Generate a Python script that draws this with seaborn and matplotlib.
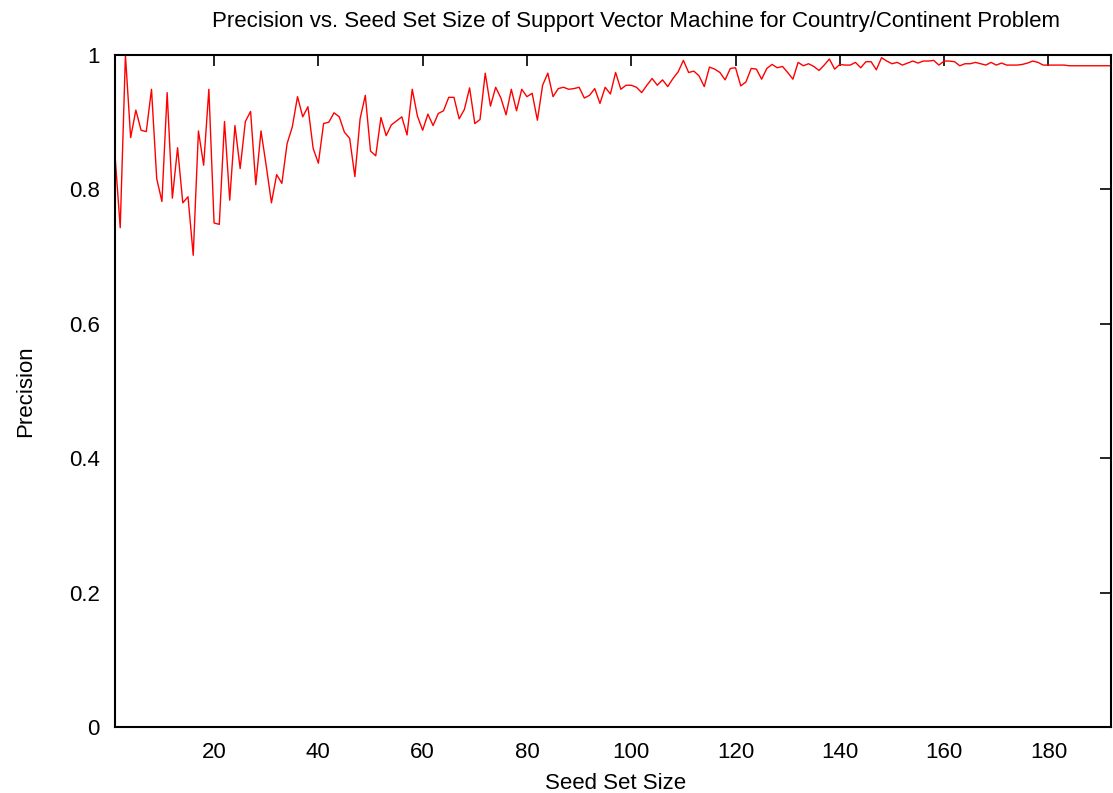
import numpy as np
import pandas as pd
import matplotlib
matplotlib.use("Agg")
import matplotlib.pyplot as plt
import seaborn as sns

# Seed set sizes 1..192 and the measured precision for each
seed_sizes = list(range(1, 193))
precision = [
    0.851, 0.743, 1.000, 0.877, 0.918, 0.888, 0.886, 0.949, 0.816, 0.782,
    0.944, 0.787, 0.862, 0.780, 0.789, 0.702, 0.887, 0.836, 0.949, 0.750,
    0.748, 0.901, 0.784, 0.895, 0.831, 0.901, 0.916, 0.807, 0.887, 0.835,
    0.780, 0.822, 0.809, 0.868, 0.893, 0.938, 0.908, 0.923, 0.861, 0.839,
    0.898, 0.900, 0.914, 0.908, 0.885, 0.876, 0.819, 0.905, 0.940, 0.857,
    0.850, 0.907, 0.880, 0.896, 0.902, 0.908, 0.881, 0.949, 0.909, 0.888,
    0.912, 0.895, 0.913, 0.917, 0.937, 0.937, 0.905, 0.919, 0.951, 0.898,
    0.904, 0.973, 0.924, 0.952, 0.936, 0.911, 0.949, 0.917, 0.949, 0.938,
    0.943, 0.903, 0.955, 0.973, 0.938, 0.950, 0.952, 0.949, 0.950, 0.952,
    0.936, 0.940, 0.950, 0.928, 0.952, 0.942, 0.974, 0.949, 0.955, 0.955,
    0.952, 0.944, 0.955, 0.965, 0.955, 0.963, 0.953, 0.965, 0.975, 0.992,
    0.974, 0.976, 0.969, 0.953, 0.982, 0.979, 0.974, 0.963, 0.980, 0.981,
    0.954, 0.960, 0.980, 0.979, 0.964, 0.980, 0.986, 0.981, 0.983, 0.974,
    0.964, 0.989, 0.984, 0.987, 0.983, 0.977, 0.985, 0.994, 0.979, 0.986,
    0.985, 0.985, 0.989, 0.981, 0.990, 0.990, 0.978, 0.996, 0.991, 0.987,
    0.989, 0.985, 0.988, 0.991, 0.988, 0.991, 0.991, 0.992, 0.985, 0.991,
    0.991, 0.990, 0.984, 0.987, 0.987, 0.989, 0.987, 0.985, 0.989, 0.985,
    0.988, 0.985, 0.985, 0.985, 0.986, 0.988, 0.991, 0.989, 0.985, 0.985,
    0.985, 0.985, 0.985, 0.984, 0.984, 0.984, 0.984, 0.984, 0.984, 0.984,
    0.984, 0.984,
]
x_ticks = [20, 40, 60, 80, 100, 120, 140, 160, 180]
y_ticks = [0, 0.2, 0.4, 0.6, 0.8, 1.0]
y_tick_labels = ["0", "0.2", "0.4", "0.6", "0.8", "1"]

df = pd.DataFrame({"Seed Set Size": seed_sizes, "Precision": precision})

sns.set_style("white")
plt.rcParams["font.family"] = ["Liberation Sans", "DejaVu Sans"]
plt.rcParams["text.color"] = "black"
plt.rcParams["axes.labelcolor"] = "black"

W, H = 1113, 793
FS = 16
fig = plt.figure(figsize=(W / 100, H / 100), dpi=100)
ax = fig.add_axes([115 / W, 1 - 727 / H, (1111 - 115) / W, (727 - 55) / H])

sns.lineplot(data=df, x="Seed Set Size", y="Precision", ax=ax,
             color="#ff0000", linewidth=1.0)

ax.set_xlim(1, 192)
ax.set_ylim(0, 1)
ax.set_xticks(x_ticks)
ax.set_xticklabels([str(t) for t in x_ticks])
ax.set_yticks(y_ticks)
ax.set_yticklabels(y_tick_labels)

for s in ax.spines.values():
    s.set_color("black")
    s.set_linewidth(1.5)
    s.set_visible(True)

ax.tick_params(direction="in", length=8, width=1.2, colors="black",
               labelsize=FS, top=True, right=True, labeltop=False,
               labelright=False, pad=11)

ax.set_xlabel("Seed Set Size", fontsize=FS, color="black")
ax.xaxis.set_label_coords(0.503, -0.068)
ax.set_ylabel("Precision", fontsize=FS, color="black")
ax.yaxis.set_label_coords(-0.079, 0.5)

fig.text(636 / W, 1 - 22 / H,
         "Precision vs. Seed Set Size of Support Vector Machine for Country/Continent Problem",
         fontsize=FS, color="black", ha="center", va="center")

fig.savefig("out.png", dpi=100)
